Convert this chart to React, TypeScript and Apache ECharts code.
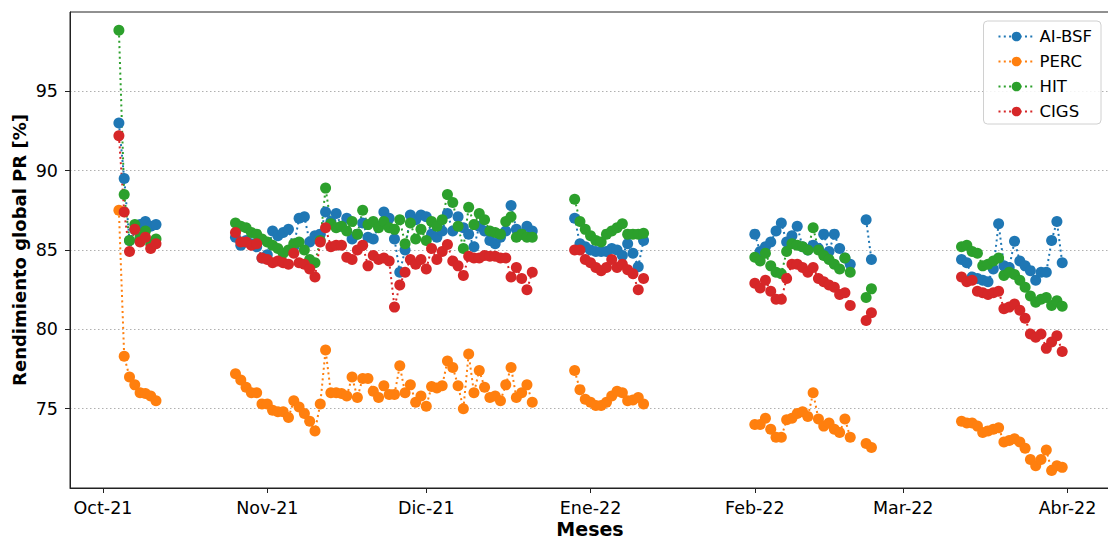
import React, { useRef, useEffect } from "react";
import * as echarts from "echarts";

const seriesNames = ["AI-BSF", "PERC", "HIT", "CIGS"];
const seriesColors = ["#1f77b4", "#ff7f0e", "#2ca02c", "#d62728"];

// first day of each block of daily readings (blocks are not joined by a line)
const blockStarts = ["2021-10-04", "2021-10-26", "2021-12-29", "2022-02-01", "2022-02-22", "2022-03-12"];

const aiBsf = [
  [93.0, 89.5, 85.6, 86.3, 86.6, 86.8, 86.5, 86.6],
  [85.8, 85.3, 85.6, 85.4, 85.2, 84.5, 84.7, 86.2, 85.9, 86.1,
    86.3, 85.2, 87.0, 87.1, 85.5, 85.9, 86.0, 87.4, 86.8, 87.3,
    86.5, 87.0, 85.7, 86.0, 86.7, 85.8, 85.7, 86.5, 87.4, 87.0,
    85.7, 83.6, 85.0, 87.2, 86.9, 87.2, 87.1, 86.0, 85.8, 86.2,
    87.3, 86.2, 87.1, 86.4, 86.0, 85.2, 86.5, 86.2, 85.6, 85.4,
    85.8, 86.2, 87.8, 86.3, 86.0, 86.5, 86.2],
  [87.0, 85.4, 85.2, 85.0, 84.9, 84.9, 84.9, 85.1, 85.0, 84.65, 85.4, 84.8, 83.95, 85.6],
  [86.0, 84.9, 85.2, 85.5, 86.2, 86.7, 85.5, 85.9, 86.5, 85.2, 85.0, 85.3, 85.1, 86.0, 84.9, 86.0, 85.1, 84.5, 84.1],
  [86.9, 84.4],
  [84.4, 84.2, 83.3, 83.2, 83.1, 83.0, 83.8, 86.65, 84.0, 83.9, 85.55, 84.3, 84.0, 83.7, 83.1, 83.6, 83.6, 85.6, 86.8, 84.2],
];

const perc = [
  [87.5, 78.3, 77.0, 76.5, 76.0, 75.95, 75.8, 75.5],
  [77.2, 76.8, 76.35, 76.0, 76.0, 75.3, 75.3, 74.9, 74.8, 74.8,
    74.45, 75.5, 75.1, 74.7, 74.2, 73.6, 75.3, 78.7, 76.0, 76.0,
    75.95, 75.8, 77.0, 75.7, 76.9, 76.9, 76.1, 75.7, 76.45, 75.9,
    75.9, 77.7, 76.0, 76.5, 75.4, 75.8, 75.15, 76.4, 76.3, 76.45,
    78.0, 77.6, 76.45, 75.0, 78.45, 76.0, 77.4, 76.35, 75.7, 75.8,
    75.5, 76.5, 77.6, 75.7, 76.0, 76.5, 75.4],
  [77.4, 76.2, 75.6, 75.4, 75.2, 75.2, 75.4, 75.8, 76.1, 76.0, 75.5, 75.55, 75.7, 75.3],
  [74.0, 74.0, 74.4, 73.7, 73.2, 73.2, 74.3, 74.4, 74.7, 74.8, 74.5, 76.0, 74.35, 73.9, 74.1, 73.7, 73.5, 74.35, 73.2],
  [72.8, 72.55],
  [74.2, 74.1, 74.1, 73.9, 73.5, 73.6, 73.7, 73.8, 72.9, 73.0, 73.1, 72.9, 72.5, 71.8, 71.4, 71.8, 72.4, 71.1, 71.4, 71.3],
];

const hit = [
  [98.85, 88.5, 85.6, 86.6, 85.8, 86.2, 85.4, 85.7],
  [86.7, 86.5, 86.4, 86.1, 86.0, 85.7, 85.5, 85.3, 85.1, 84.8,
    85.0, 85.4, 85.5, 85.0, 84.4, 84.2, 85.6, 88.9, 86.65, 86.4,
    86.5, 86.2, 86.8, 86.0, 87.5, 86.6, 86.8, 86.4, 86.8, 86.4,
    86.3, 86.9, 85.4, 86.7, 85.7, 86.3, 85.6, 86.8, 86.5, 86.9,
    88.5, 88.0, 86.5, 85.1, 87.7, 86.6, 87.3, 86.9, 86.2, 86.1,
    86.0, 86.8, 87.1, 85.8, 86.0, 85.8, 85.8],
  [88.2, 86.8, 86.3, 85.9, 85.6, 85.5, 86.0, 86.2, 86.4, 86.65, 86.0, 86.0, 86.0, 86.05],
  [84.55, 84.3, 84.8, 84.0, 83.6, 83.5, 84.9, 85.4, 85.3, 85.2, 85.0, 86.4, 85.0, 84.65, 84.4, 84.1, 83.8, 84.5, 83.6],
  [82.0, 82.55],
  [85.2, 85.3, 84.9, 84.8, 84.0, 84.1, 84.3, 84.5, 83.4, 83.6, 83.45, 83.1, 82.65, 82.1, 81.7, 81.9, 82.0, 81.5, 81.8, 81.45],
];

const cigs = [
  [92.2, 87.4, 84.9, 86.3, 85.5, 85.8, 85.1, 85.4],
  [86.1, 85.5, 85.5, 85.3, 85.4, 84.5, 84.4, 84.2, 84.3, 84.2,
    84.1, 84.8, 84.2, 84.1, 83.8, 83.3, 85.5, 86.4, 85.2, 85.3,
    85.3, 84.55, 84.4, 85.0, 85.3, 84.0, 84.65, 84.4, 84.5, 84.3,
    81.4, 82.8, 83.6, 84.4, 84.1, 84.4, 83.8, 85.1, 84.4, 84.9,
    85.35, 84.3, 84.0, 83.4, 84.6, 84.5, 84.5, 84.65, 84.6, 84.6,
    84.5, 84.5, 83.3, 83.9, 83.2, 82.5, 83.6],
  [85.0, 85.0, 84.4, 84.2, 83.9, 83.7, 83.9, 84.4, 83.9, 84.1, 83.75, 83.5, 82.5, 83.2],
  [82.9, 82.6, 83.1, 82.4, 81.9, 81.9, 83.2, 84.1, 84.1, 83.9, 83.6, 83.9, 83.2, 83.0, 82.8, 82.65, 82.2, 82.3, 81.5],
  [80.55, 81.05],
  [83.3, 83.0, 83.1, 82.4, 82.3, 82.2, 82.3, 82.4, 81.3, 81.4, 81.6, 81.2, 80.7, 79.7, 79.5, 79.7, 78.8, 79.2, 79.6, 78.6],
];

const monthTicks = ["2021-10-01", "2021-11-01", "2021-12-01", "2022-01-01", "2022-02-01", "2022-03-01", "2022-04-01"];
const monthLabels = ["Oct-21", "Nov-21", "Dic-21", "Ene-22", "Feb-22", "Mar-22", "Abr-22"];
const yTicks = [75, 80, 85, 90, 95];

const DAY = 86400000;
const FONT = "DejaVu Sans";

function buildSeries(blocks: number[][]) {
  const out: (number | null)[][] = [];
  blocks.forEach((vals, b) => {
    const t0 = Date.parse(blockStarts[b]);
    vals.forEach((v, i) => out.push([t0 + i * DAY, v]));
    // gap marker so blocks are not connected
    out.push([t0 + vals.length * DAY, null]);
  });
  return out;
}

const App = () => {
  const chartRef = useRef(null);

  useEffect(() => {
    const myChart = echarts.init(chartRef.current, null, { renderer: "svg" });

    const tickTimes = monthTicks.map((d) => Date.parse(d));
    // plot area: 70px .. 1110px, ~5.3 px per day, Oct 1 at x=103
    const pxPerDay = 5.2995;
    const xMin = tickTimes[0] - (33 / pxPerDay) * DAY;
    const xMax = xMin + (1040 / pxPerDay) * DAY;

    const allData = [aiBsf, perc, hit, cigs];

    const option = {
      animation: false,
      grid: {
        left: 70,
        right: 6,
        top: 12,
        bottom: 51,
        outerBoundsMode: "none",
        show: true,
        borderColor: "#222",
        borderWidth: 1,
      },
      legend: {
        orient: "vertical",
        right: 15,
        top: 21,
        itemWidth: 36,
        itemHeight: 12,
        itemGap: 8,
        itemTextGap: 15,
        padding: [7, 9, 4, 14],
        borderColor: "#d0d0d0",
        borderWidth: 1,
        borderRadius: 4,
        backgroundColor: "rgba(255,255,255,0.85)",
        textStyle: { fontFamily: FONT, fontSize: 16.5, color: "#000", lineHeight: 16 },
        data: seriesNames,
      },
      xAxis: {
        // timestamps (ms) on a value axis so the month ticks can be placed exactly
        type: "value",
        min: xMin,
        max: xMax,
        name: "Meses",
        nameLocation: "middle",
        nameGap: 31,
        nameMoveOverlap: false,
        nameTextStyle: { fontFamily: FONT, fontSize: 19, fontWeight: "bold", color: "#000", lineHeight: 19 },
        axisLine: { lineStyle: { color: "#222", width: 1 } },
        axisTick: { show: true, length: 5, customValues: tickTimes, lineStyle: { color: "#222" } },
        axisLabel: {
          customValues: tickTimes,
          margin: 11,
          fontFamily: FONT,
          fontSize: 17.5,
          color: "#000",
          formatter: (v: number) => {
            const i = tickTimes.indexOf(v);
            return i >= 0 ? monthLabels[i] : "";
          },
        },
        splitLine: { show: false },
      },
      yAxis: {
        type: "value",
        min: 70,
        max: 100,
        name: "Rendimiento global PR [%]",
        nameLocation: "middle",
        nameGap: 42,
        nameMoveOverlap: false,
        nameTextStyle: { fontFamily: FONT, fontSize: 18, fontWeight: "bold", color: "#000" },
        axisLine: { show: true, lineStyle: { color: "#222", width: 1 } },
        axisTick: { show: true, length: 5, customValues: yTicks, lineStyle: { color: "#222" } },
        axisLabel: {
          customValues: yTicks,
          margin: 12,
          fontFamily: FONT,
          fontSize: 17.5,
          color: "#000",
        },
        splitLine: {
          show: true,
          lineStyle: { color: "#b0b0b0", width: 1, type: [1.5, 2.5] },
        },
      },
      series: seriesNames.map((name, k) => ({
        name,
        type: "line",
        data: buildSeries(allData[k]),
        symbol: "circle",
        symbolSize: 11,
        connectNulls: false,
        lineStyle: { color: seriesColors[k], width: 2, type: [2, 3.3] },
        itemStyle: { color: seriesColors[k] },
        emphasis: { disabled: true },
      })),
    };

    myChart.setOption(option);

    return () => {
      myChart.dispose();
    };
  }, []);

  return (
    <div
      style={{
        position: "fixed",
        left: 0,
        top: 0,
        width: 1108,
        height: 539,
        overflow: "hidden",
        background: "#fff",
      }}
    >
      <div ref={chartRef} style={{ width: 1116, height: 539 }} />
    </div>
  );
};

export default App;
